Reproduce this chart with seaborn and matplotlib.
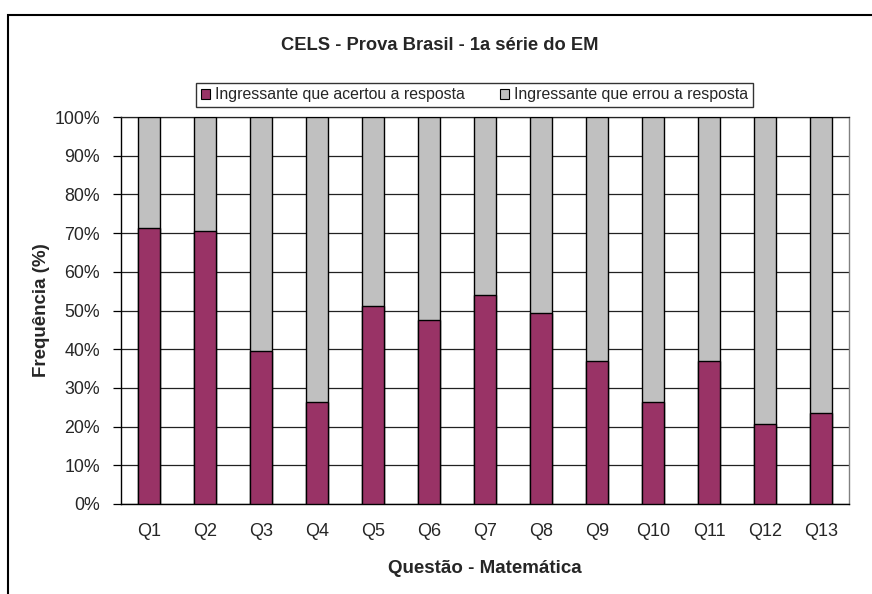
import numpy as np
import pandas as pd
import matplotlib
matplotlib.use("Agg")
import matplotlib.pyplot as plt
import matplotlib.patches as mpatches
import seaborn as sns

# ---- data ----
questoes = ["Q1", "Q2", "Q3", "Q4", "Q5", "Q6", "Q7", "Q8", "Q9", "Q10", "Q11", "Q12", "Q13"]
acertou = [71.3, 70.5, 39.6, 26.4, 51.2, 47.5, 53.9, 49.4, 37.0, 26.4, 37.0, 20.7, 23.5]
errou = [28.7, 29.5, 60.4, 73.6, 48.8, 52.5, 46.1, 50.6, 63.0, 73.6, 63.0, 79.3, 76.5]
y_ticks = [0, 10, 20, 30, 40, 50, 60, 70, 80, 90, 100]
y_tick_labels = [f"{v}%" for v in y_ticks]
serie_acertou = "Ingressante que acertou a resposta"
serie_errou = "Ingressante que errou a resposta"

df = pd.DataFrame({"questao": questoes, "acertou": acertou, "errou": errou})
df["total"] = df["acertou"] + df["errou"]

sns.set_style("white")
plt.rcParams["font.family"] = ["Liberation Sans", "DejaVu Sans"]

W, H = 872, 594
fig = plt.figure(figsize=(W / 100, H / 100), dpi=100)
ax = fig.add_axes([121 / W, 1 - 504 / H, 728 / W, 387 / H])

c_acertou = "#993366"
c_errou = "#C0C0C0"

sns.barplot(data=df, x="questao", y="total", color=c_errou, width=0.41,
            edgecolor="black", linewidth=1.0, saturation=1, ax=ax, zorder=3)
sns.barplot(data=df, x="questao", y="acertou", color=c_acertou, width=0.41,
            edgecolor="black", linewidth=1.0, saturation=1, ax=ax, zorder=4)

ax.set_ylim(0, 100)
ax.set_xlim(-0.5, len(questoes) - 0.5)
ax.set_yticks(y_ticks)
ax.set_yticklabels(y_tick_labels, fontsize=12.8)
ax.yaxis.grid(True, color="#222222", linewidth=0.9, zorder=0)
ax.set_axisbelow(True)

ax.set_xticks(range(len(questoes)))
ax.set_xticklabels(questoes, fontsize=13)
ax.set_xticks(np.arange(-0.5, len(questoes), 1), minor=True)
ax.tick_params(axis="x", which="major", length=0, pad=14)
ax.tick_params(axis="x", which="minor", length=5, width=0.9, color="black", direction="out")
ax.tick_params(axis="y", which="major", length=6, width=0.9, color="black", direction="out", pad=9, left=True)

for s in ["left", "bottom"]:
    ax.spines[s].set_color("black")
    ax.spines[s].set_linewidth(1.0)
ax.spines["right"].set_color("#808080")
ax.spines["right"].set_linewidth(1.0)
ax.spines["top"].set_color("#222222")
ax.spines["top"].set_linewidth(0.9)
for s in ax.spines.values():
    s.set_visible(True)

ax.set_xlabel("Questão - Matemática", fontsize=13.5, fontweight="bold", labelpad=14)
ax.set_ylabel("Frequência (%)", fontsize=13.5, fontweight="bold", labelpad=3)

fig.text(440 / W, 1 - 45 / H, "CELS - Prova Brasil - 1a série do EM",
         fontsize=13.2, fontweight="bold", ha="center", va="center")

handles = [mpatches.Patch(facecolor=c_acertou, edgecolor="black", linewidth=0.8, label=serie_acertou),
           mpatches.Patch(facecolor=c_errou, edgecolor="black", linewidth=0.8, label=serie_errou)]
leg = fig.legend(handles=handles, loc="center", bbox_to_anchor=(474.5 / W, 1 - 95 / H),
                 ncol=2, fontsize=11.4, frameon=True, fancybox=False, edgecolor="black",
                 handlelength=0.6, handleheight=0.6, handletextpad=0.3, columnspacing=2.2,
                 borderpad=0.3, borderaxespad=0)
leg.get_frame().set_linewidth(1.0)

# outer chart-area border (left and top visible)
fig.patches.append(mpatches.Rectangle((8 / W, -0.05), 1.2, 1 - 15 / H + 0.05,
                                      transform=fig.transFigure, fill=False,
                                      edgecolor="black", linewidth=1.5))

fig.savefig("out.png", dpi=100)
